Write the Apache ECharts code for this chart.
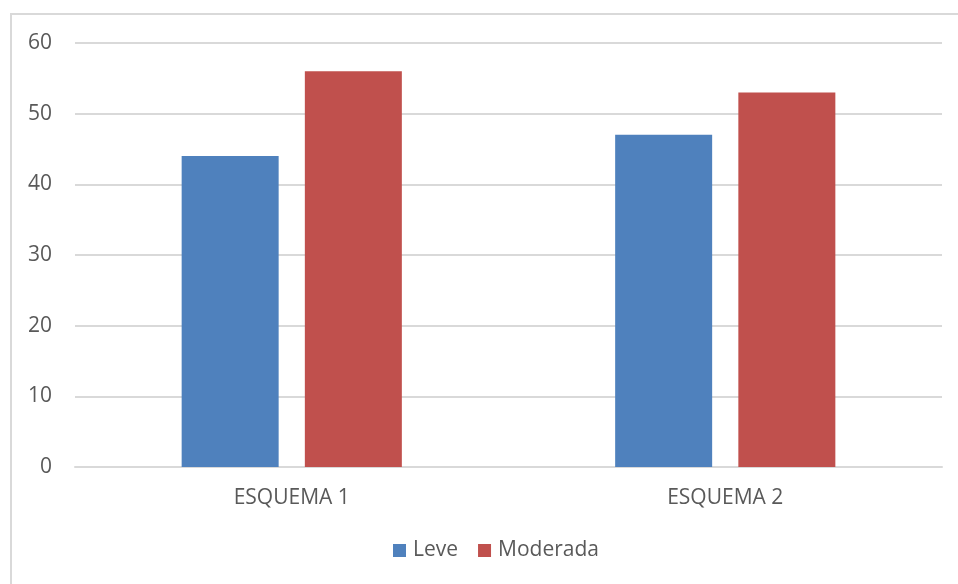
<!DOCTYPE html>
<html>
<head>
<meta charset="utf-8">
<script src="https://cdn.jsdelivr.net/npm/echarts@6/dist/echarts.min.js"></script>
<style>
  html, body { margin: 0; padding: 0; background: #ffffff; }
  #chart { width: 958px; height: 584px; }
</style>
</head>
<body>
<div id="chart"></div>
<script>
// Categories and series values
const categories = ['ESQUEMA 1', 'ESQUEMA 2'];
const leve = [44, 47];
const moderada = [56, 53];
const yTicks = { min: 0, max: 60, interval: 10 };

const textColor = '#595959';
const fontFamily = '"Open Sans", "Noto Sans", sans-serif';

const chart = echarts.init(document.getElementById('chart'), null, { renderer: 'canvas' });
chart.setOption({
  animation: false,
  backgroundColor: '#ffffff',
  graphic: [{
    type: 'rect',
    shape: { x: 11, y: 14, width: 980, height: 620 },
    style: { fill: 'none', stroke: '#d9d9d9', lineWidth: 2 },
    silent: true,
    z: -1
  }],
  grid: { left: 75, right: 16, top: 43, bottom: 584 - 467, containLabel: false },
  legend: {
    top: 540,
    left: 393,
    padding: 0,
    itemWidth: 13,
    itemHeight: 13,
    itemGap: 20,
    icon: 'rect',
    textStyle: { color: textColor, fontSize: 21, fontFamily: fontFamily, padding: [0, 0, 0, 2] },
    data: ['Leve', 'Moderada']
  },
  xAxis: {
    type: 'category',
    data: categories,
    axisLine: { show: true, lineStyle: { color: '#d9d9d9', width: 2 } },
    axisTick: { show: false },
    axisLabel: { color: textColor, fontSize: 21, fontFamily: fontFamily, margin: 21 }
  },
  yAxis: {
    type: 'value',
    min: yTicks.min,
    max: yTicks.max,
    interval: yTicks.interval,
    axisLine: { show: false },
    axisTick: { show: false },
    splitLine: { lineStyle: { color: '#d9d9d9', width: 2 } },
    axisLabel: { color: textColor, fontSize: 21, fontFamily: fontFamily, margin: 23 }
  },
  series: [
    {
      name: 'Leve',
      type: 'bar',
      data: leve,
      barWidth: 97,
      barGap: '27%',
      itemStyle: { color: '#4f81bd' }
    },
    {
      name: 'Moderada',
      type: 'bar',
      data: moderada,
      barWidth: 97,
      barGap: '27%',
      itemStyle: { color: '#c0504d' }
    }
  ]
});
</script>
</body>
</html>
